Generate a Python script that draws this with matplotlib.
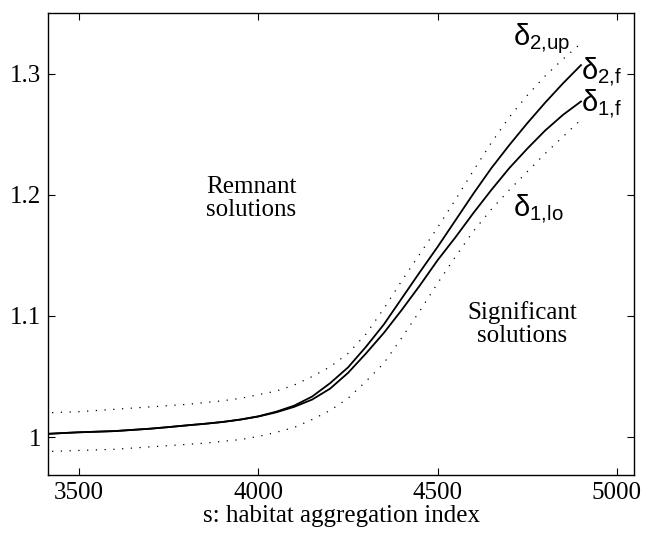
import matplotlib
matplotlib.use("Agg")
import matplotlib.pyplot as plt

plt.rcParams['mathtext.fontset'] = 'custom'
plt.rcParams['mathtext.rm'] = 'Liberation Sans'
plt.rcParams['mathtext.default'] = 'regular'

# habitat aggregation index
s = [3400, 3450, 3500, 3550, 3600, 3650, 3700, 3750, 3800, 3850,
     3900, 3950, 4000, 4050, 4100, 4150, 4200, 4250, 4300, 4350,
     4400, 4450, 4500, 4550, 4600, 4650, 4700, 4750, 4800, 4850, 4900]

# fitted thresholds (solid)
delta_2f = [1.0025, 1.0033, 1.0040, 1.0045, 1.0050, 1.0060, 1.0070, 1.0083, 1.0097, 1.0110,
            1.0125, 1.0145, 1.0172, 1.0210, 1.0260, 1.0335, 1.0445, 1.0575, 1.0745, 1.0930,
            1.1145, 1.1360, 1.1570, 1.1790, 1.2010, 1.2220, 1.2410, 1.2590, 1.2760, 1.2920, 1.3070]
delta_1f = [1.0025, 1.0033, 1.0040, 1.0045, 1.0050, 1.0060, 1.0070, 1.0083, 1.0097, 1.0110,
            1.0125, 1.0145, 1.0170, 1.0205, 1.0250, 1.0310, 1.0400, 1.0530, 1.0690, 1.0860,
            1.1050, 1.1250, 1.1460, 1.1650, 1.1850, 1.2040, 1.2220, 1.2380, 1.2530, 1.2660, 1.2770]

# confidence bounds (dotted)
delta_2up = [1.0200, 1.0205, 1.0210, 1.0220, 1.0230, 1.0240, 1.0250, 1.0260, 1.0270, 1.0285,
             1.0300, 1.0320, 1.0350, 1.0380, 1.0430, 1.0500, 1.0580, 1.0690, 1.0850, 1.1060,
             1.1290, 1.1510, 1.1730, 1.1960, 1.2200, 1.2430, 1.2640, 1.2820, 1.2980, 1.3120, 1.3250]
delta_1lo = [0.9880, 0.9885, 0.9890, 0.9895, 0.9900, 0.9910, 0.9920, 0.9930, 0.9940, 0.9950,
             0.9965, 0.9980, 1.0005, 1.0040, 1.0080, 1.0145, 1.0220, 1.0320, 1.0460, 1.0610,
             1.0820, 1.1040, 1.1270, 1.1490, 1.1700, 1.1880, 1.2040, 1.2190, 1.2340, 1.2480, 1.2620]

xticks = [3500, 4000, 4500, 5000]
yticks = [1.0, 1.1, 1.2, 1.3]
ytick_labels = ['1', '1.1', '1.2', '1.3']

fig = plt.figure(figsize=(6.45, 5.39), dpi=100)
ax = fig.add_axes([0.0744, 0.1193, 0.9086, 0.8566])

dots = (0, (1, 6))
ax.plot(s, delta_2f, color='black', lw=1.3)
ax.plot(s, delta_1f, color='black', lw=1.3)
ax.plot(s, delta_2up, color='black', lw=0.9, linestyle=dots)
ax.plot(s, delta_1lo, color='black', lw=0.9, linestyle=dots)

ax.set_xlim(3413, 5048)
ax.set_ylim(0.969, 1.35)
ax.set_xticks(xticks)
ax.set_yticks(yticks)
ax.set_yticklabels(ytick_labels)
ax.tick_params(direction='in', top=True, right=True, length=5, width=0.8,
               labelsize=18, pad=5)
for lab in ax.get_xticklabels() + ax.get_yticklabels():
    lab.set_family('Liberation Serif')
for sp in ax.spines.values():
    sp.set_linewidth(1.0)

ax.set_xlabel('s: habitat aggregation index', family='Liberation Serif',
              fontsize=18, labelpad=1)

ax.text(3980, 1.197, 'Remnant\nsolutions', family='Liberation Serif',
        fontsize=18, ha='center', va='center', linespacing=1.05)
ax.text(4737, 1.093, 'Significant\nsolutions', family='Liberation Serif',
        fontsize=18, ha='center', va='center', linespacing=1.05)

lab_kw = dict(family='Liberation Sans', fontsize=21, ha='left', va='center')
ax.text(4709, 1.329, r'$\delta_{2{,}up}$', **lab_kw)
ax.text(4900, 1.302, r'$\delta_{2{,}f}$', **lab_kw)
ax.text(4900, 1.275, r'$\delta_{1{,}f}$', **lab_kw)
ax.text(4709, 1.189, r'$\delta_{1{,}lo}$', **lab_kw)

fig.savefig('out.png', dpi=100)
